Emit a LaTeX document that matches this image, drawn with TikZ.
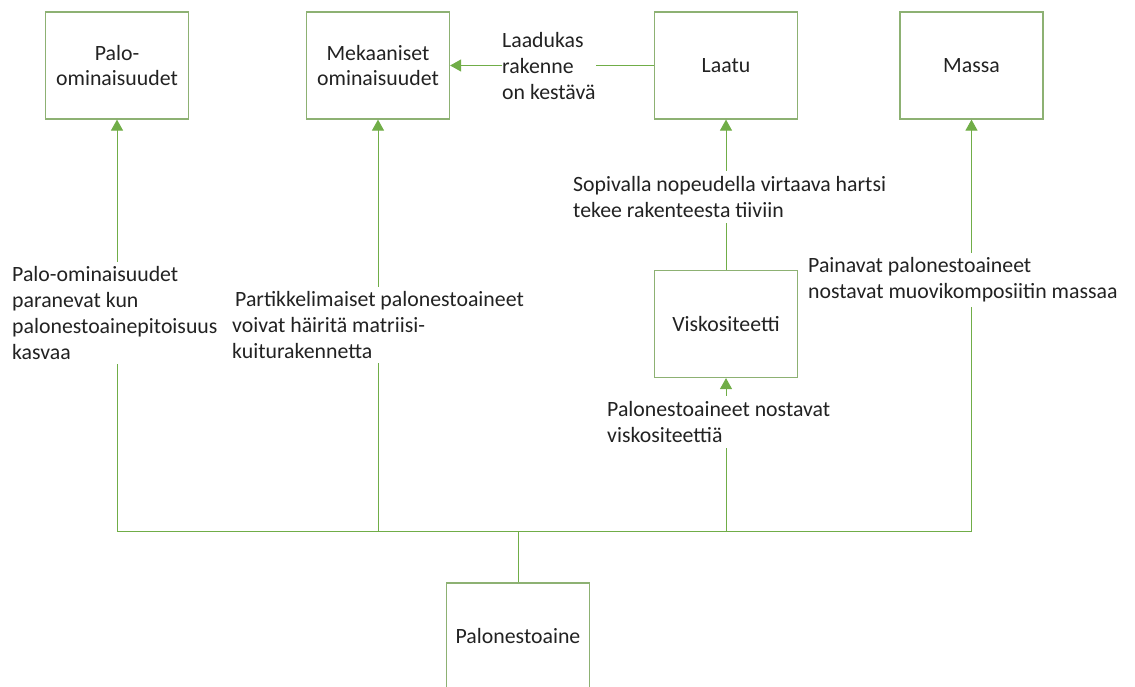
\documentclass[tikz,border=0pt]{standalone}
\usepackage{fontspec}
\setmainfont{Carlito}
\usetikzlibrary{arrows.meta}
\definecolor{lgreen}{HTML}{70AD47}
\definecolor{bgreen}{HTML}{8DB173}
\definecolor{txt}{HTML}{222222}
\begin{document}
\begin{tikzpicture}[x=1pt,y=-1pt,
  font=\fontsize{21.8}{25.8}\selectfont, text=txt,
  box/.style={draw=bgreen, line width=1.2pt, minimum width=143pt, minimum height=107pt, align=center, inner sep=0pt},
  conn/.style={draw=lgreen, line width=1pt},
  arr/.style={conn, -{Triangle[width=12pt,length=11pt]}},
  lbl/.style={fill=white, align=left, inner xsep=0pt, inner ysep=5pt}
]
\useasboundingbox (0,0) rectangle (1135,687);
\node[box] (palo) at (117,65.5) {Palo-\\ominaisuudet};
\node[box] (mek) at (378,65.5) {Mekaaniset\\ominaisuudet};
\node[box] (laatu) at (726,65.5) {Laatu};
\node[box] (massa) at (971.5,65.5) {Massa};
\node[box] (visk) at (726,324) {Viskositeetti};
\node[box] (pal) at (518,636.5) {Palonestoaine};
\coordinate (bus) at (518,531);

\draw[arr] (pal.north) -- (bus) -| (palo.south);
\draw[arr] (bus) -| (mek.south);
\draw[arr] (bus) -| (visk.south);
\draw[arr] (bus) -| (massa.south);
\draw[arr] (visk.north) -- (laatu.south);
\draw[arr] (laatu.west) -- (mek.east);

\node[lbl, anchor=west] (l1) at (12,313) {Palo-ominaisuudet\\paranevat kun\\palonestoainepitoisuus\\kasvaa};
\node[lbl, anchor=west] (l2) at (232,325) {\hspace{3pt}Partikkelimaiset palonestoaineet\\voivat häiritä matriisi-\\kuiturakennetta};
\node[lbl, anchor=west, inner ysep=0pt] (l3) at (502,66) {Laadukas\\rakenne\\on kestävä};
\node[lbl, anchor=west] (l4) at (573,197) {Sopivalla nopeudella virtaava hartsi\\tekee rakenteesta tiiviin};
\node[lbl, anchor=west] (l5) at (808,280) {Painavat palonestoaineet\\nostavat muovikomposiitin massaa};
\node[lbl, anchor=west] (l6) at (607,422) {Palonestoaineet nostavat\\viskositeettiä};
\end{tikzpicture}
\end{document}
